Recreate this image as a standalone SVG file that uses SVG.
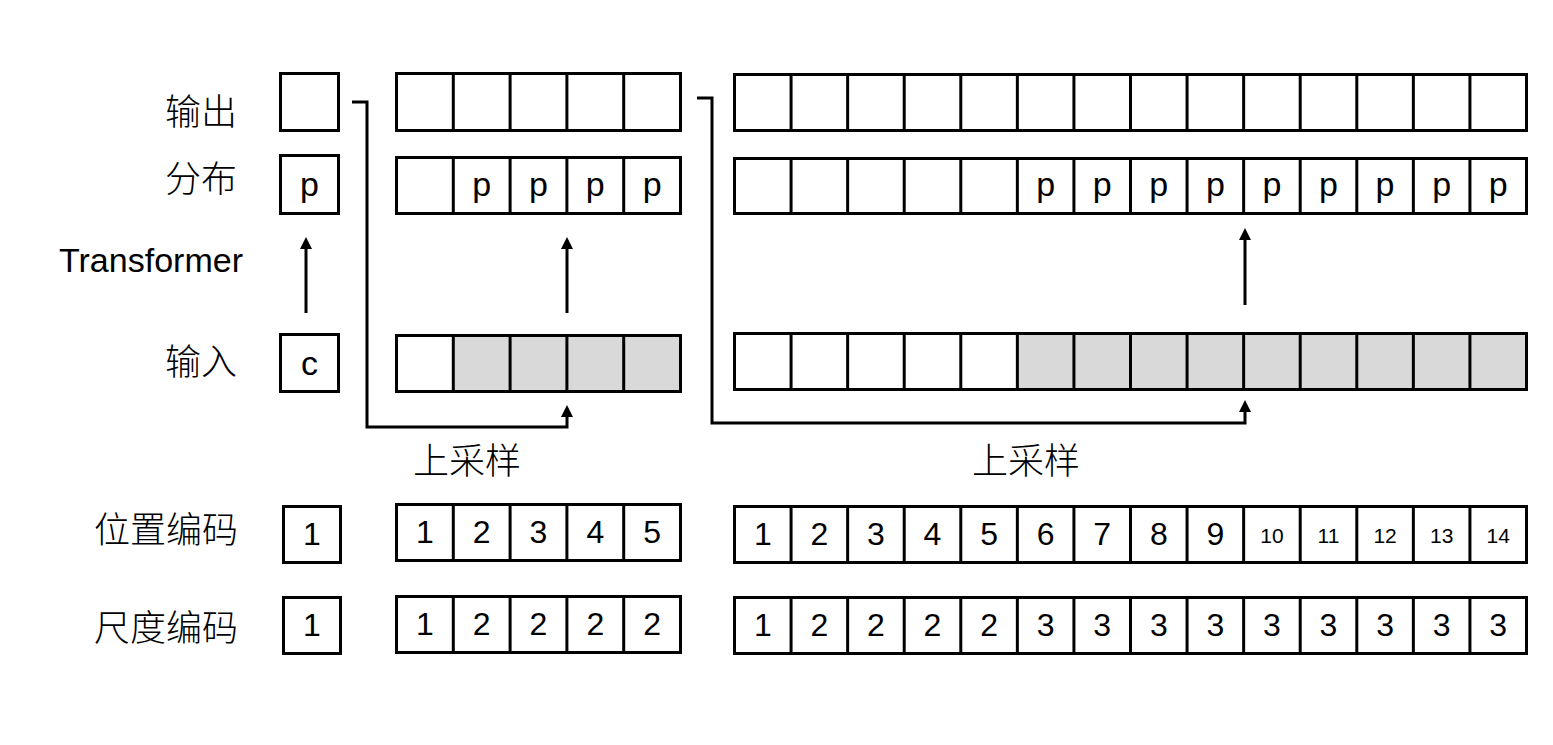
<svg xmlns="http://www.w3.org/2000/svg" width="1553" height="745" viewBox="0 0 1553 745">
<style>
text{font-family:"Liberation Sans","Noto Sans CJK SC",sans-serif;fill:#000}
.lbl{font-size:36px;text-anchor:end;font-weight:300}
.cjk{font-family:"Noto Sans CJK SC",sans-serif;font-weight:300}
.cell{font-size:34px;text-anchor:middle}
.num{font-size:32px;text-anchor:middle}
.sm{font-size:21px;text-anchor:middle}
.box{fill:#fff;stroke:#000;stroke-width:3}
.frame{fill:none;stroke:#000;stroke-width:3}
.gray{fill:#d9d9d9;stroke:none}
.div{stroke:#000;stroke-width:3}
.con{fill:none;stroke:#000;stroke-width:3;marker-end:url(#ah)}
</style>
<defs>
<marker id="ah" viewBox="0 0 12 12" refX="1" refY="6" markerWidth="12" markerHeight="12" markerUnits="userSpaceOnUse" orient="auto">
<path d="M0,0 L12,6 L0,12 z" fill="#000"/>
</marker>
</defs>
<rect width="1553" height="745" fill="#fff"/>

<g id="labels">
<text class="lbl cjk" x="237" y="125">输出</text>
<text class="lbl cjk" x="237" y="192">分布</text>
<text x="59" y="272" style="font-size:34px" textLength="184" lengthAdjust="spacingAndGlyphs">Transformer</text>
<text class="lbl cjk" x="237" y="375">输入</text>
<text class="lbl cjk" x="238" y="543">位置编码</text>
<text class="lbl cjk" x="238" y="641">尺度编码</text>
<text class="cjk" x="467" y="474" style="font-size:36px;text-anchor:middle">上采样</text>
<text class="cjk" x="1026" y="474" style="font-size:36px;text-anchor:middle">上采样</text>
</g>

<g id="s1-output"><rect class="box" x="280.5" y="73.5" width="58" height="57"/></g>
<g id="s1-dist"><rect class="box" x="280.5" y="155.5" width="58" height="58"/><text class="cell" x="309.5" y="196">p</text></g>
<g id="s1-input"><rect class="box" x="280.5" y="334.5" width="58" height="57"/><text class="cell" x="309.5" y="375">c</text></g>
<g id="s1-pos"><rect class="box" x="283.5" y="506.5" width="57" height="56"/><text class="num" x="312" y="545">1</text></g>
<g id="s1-scale"><rect class="box" x="283.5" y="597.5" width="57" height="56"/><text class="num" x="312" y="636">1</text></g>

<g id="s2-output">
<rect class="box" x="396.5" y="73.5" width="284" height="57"/>
<path class="div" d="M453.3,73.5V130.5M510.1,73.5V130.5M566.9,73.5V130.5M623.7,73.5V130.5"/>
</g>
<g id="s2-dist">
<rect class="box" x="396.5" y="157.5" width="284" height="56"/>
<path class="div" d="M453.3,157.5V213.5M510.1,157.5V213.5M566.9,157.5V213.5M623.7,157.5V213.5"/>
<text class="cell" x="481.7" y="196">p</text><text class="cell" x="538.5" y="196">p</text><text class="cell" x="595.3" y="196">p</text><text class="cell" x="652.1" y="196">p</text>
</g>
<g id="s2-input">
<rect fill="#fff" x="396.5" y="335.5" width="284" height="56"/>
<rect class="gray" x="453.3" y="335.5" width="227.2" height="56"/>
<rect class="frame" x="396.5" y="335.5" width="284" height="56"/>
<path class="div" d="M453.3,335.5V391.5M510.1,335.5V391.5M566.9,335.5V391.5M623.7,335.5V391.5"/>
</g>
<g id="s2-pos">
<rect class="box" x="396.5" y="504.5" width="284" height="56"/>
<path class="div" d="M453.3,504.5V560.5M510.1,504.5V560.5M566.9,504.5V560.5M623.7,504.5V560.5"/>
<text class="num" x="424.9" y="543">1</text><text class="num" x="481.7" y="543">2</text><text class="num" x="538.5" y="543">3</text><text class="num" x="595.3" y="543">4</text><text class="num" x="652.1" y="543">5</text>
</g>
<g id="s2-scale">
<rect class="box" x="396.5" y="596.5" width="284" height="56"/>
<path class="div" d="M453.3,596.5V652.5M510.1,596.5V652.5M566.9,596.5V652.5M623.7,596.5V652.5"/>
<text class="num" x="424.9" y="635">1</text><text class="num" x="481.7" y="635">2</text><text class="num" x="538.5" y="635">2</text><text class="num" x="595.3" y="635">2</text><text class="num" x="652.1" y="635">2</text>
</g>

<g id="s3-output">
<rect class="box" x="734.5" y="74.5" width="792" height="56"/>
<path class="div" d="M791.07,74.5V130.5M847.64,74.5V130.5M904.21,74.5V130.5M960.79,74.5V130.5M1017.36,74.5V130.5M1073.93,74.5V130.5M1130.5,74.5V130.5M1187.07,74.5V130.5M1243.64,74.5V130.5M1300.21,74.5V130.5M1356.79,74.5V130.5M1413.36,74.5V130.5M1469.93,74.5V130.5"/>
</g>
<g id="s3-dist">
<rect class="box" x="734.5" y="158.5" width="792" height="55"/>
<path class="div" d="M791.07,158.5V213.5M847.64,158.5V213.5M904.21,158.5V213.5M960.79,158.5V213.5M1017.36,158.5V213.5M1073.93,158.5V213.5M1130.5,158.5V213.5M1187.07,158.5V213.5M1243.64,158.5V213.5M1300.21,158.5V213.5M1356.79,158.5V213.5M1413.36,158.5V213.5M1469.93,158.5V213.5"/>
<text class="cell" x="1045.64" y="196">p</text><text class="cell" x="1102.21" y="196">p</text><text class="cell" x="1158.79" y="196">p</text><text class="cell" x="1215.36" y="196">p</text><text class="cell" x="1271.93" y="196">p</text><text class="cell" x="1328.5" y="196">p</text><text class="cell" x="1385.07" y="196">p</text><text class="cell" x="1441.64" y="196">p</text><text class="cell" x="1498.21" y="196">p</text>
</g>
<g id="s3-input">
<rect fill="#fff" x="734.5" y="333.5" width="792" height="56"/>
<rect class="gray" x="1017.36" y="333.5" width="509.14" height="56"/>
<rect class="frame" x="734.5" y="333.5" width="792" height="56"/>
<path class="div" d="M791.07,333.5V389.5M847.64,333.5V389.5M904.21,333.5V389.5M960.79,333.5V389.5M1017.36,333.5V389.5M1073.93,333.5V389.5M1130.5,333.5V389.5M1187.07,333.5V389.5M1243.64,333.5V389.5M1300.21,333.5V389.5M1356.79,333.5V389.5M1413.36,333.5V389.5M1469.93,333.5V389.5"/>
</g>
<g id="s3-pos">
<rect class="box" x="734.5" y="506.5" width="792" height="56"/>
<path class="div" d="M791.07,506.5V562.5M847.64,506.5V562.5M904.21,506.5V562.5M960.79,506.5V562.5M1017.36,506.5V562.5M1073.93,506.5V562.5M1130.5,506.5V562.5M1187.07,506.5V562.5M1243.64,506.5V562.5M1300.21,506.5V562.5M1356.79,506.5V562.5M1413.36,506.5V562.5M1469.93,506.5V562.5"/>
<text class="num" x="762.79" y="545">1</text><text class="num" x="819.36" y="545">2</text><text class="num" x="875.93" y="545">3</text><text class="num" x="932.5" y="545">4</text><text class="num" x="989.07" y="545">5</text><text class="num" x="1045.64" y="545">6</text><text class="num" x="1102.21" y="545">7</text><text class="num" x="1158.79" y="545">8</text><text class="num" x="1215.36" y="545">9</text>
<text class="sm" x="1271.93" y="543">10</text><text class="sm" x="1328.5" y="543">11</text><text class="sm" x="1385.07" y="543">12</text><text class="sm" x="1441.64" y="543">13</text><text class="sm" x="1498.21" y="543">14</text>
</g>
<g id="s3-scale">
<rect class="box" x="734.5" y="597.5" width="792" height="56"/>
<path class="div" d="M791.07,597.5V653.5M847.64,597.5V653.5M904.21,597.5V653.5M960.79,597.5V653.5M1017.36,597.5V653.5M1073.93,597.5V653.5M1130.5,597.5V653.5M1187.07,597.5V653.5M1243.64,597.5V653.5M1300.21,597.5V653.5M1356.79,597.5V653.5M1413.36,597.5V653.5M1469.93,597.5V653.5"/>
<text class="num" x="762.79" y="636">1</text><text class="num" x="819.36" y="636">2</text><text class="num" x="875.93" y="636">2</text><text class="num" x="932.5" y="636">2</text><text class="num" x="989.07" y="636">2</text><text class="num" x="1045.64" y="636">3</text><text class="num" x="1102.21" y="636">3</text><text class="num" x="1158.79" y="636">3</text><text class="num" x="1215.36" y="636">3</text><text class="num" x="1271.93" y="636">3</text><text class="num" x="1328.5" y="636">3</text><text class="num" x="1385.07" y="636">3</text><text class="num" x="1441.64" y="636">3</text><text class="num" x="1498.21" y="636">3</text>
</g>

<g id="connectors">
<path class="con" d="M306,313V248"/>
<path class="con" d="M567,313V248"/>
<path class="con" d="M1245,305V239"/>
<path class="con" d="M352,102H367V427H567V416"/>
<path class="con" d="M697,98H712V423H1245V411"/>
</g>
</svg>
